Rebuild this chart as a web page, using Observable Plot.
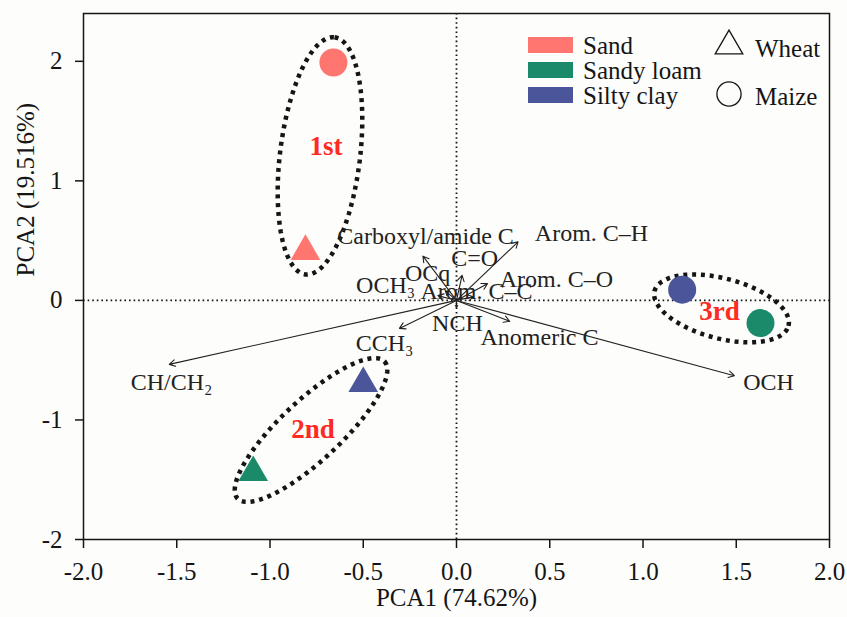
<!DOCTYPE html>
<html><head><meta charset="utf-8">
<script src="https://cdn.jsdelivr.net/npm/d3@7"></script>
<script src="https://cdn.jsdelivr.net/npm/@observablehq/plot@0.6"></script>
<style>
body{margin:0;background:#fdfdfb;}
#wrap{position:relative;width:847px;height:617px;}
#wrap svg{display:block;}
#legend{position:absolute;left:0;top:0;pointer-events:none;}
</style></head><body><div id="wrap"></div>
<script>
// ---- data ----
const soils = ["Sand", "Sandy loam", "Silty clay"];
const soilColors = ["#ff756f", "#1b8a6b", "#4a559a"];
const crops = ["Wheat", "Maize"];

const sampleSoil = ["Sand", "Sand", "Sandy loam", "Sandy loam", "Silty clay", "Silty clay"];
const sampleCrop = ["Wheat", "Maize", "Wheat", "Maize", "Wheat", "Maize"];
const samplePC1 = [-0.81, -0.66, -1.09, 1.63, -0.50, 1.21];
const samplePC2 = [0.41, 1.99, -1.44, -0.19, -0.695, 0.09];

const loadingNames = ["Carboxyl/amide C", "C=O", "Arom. C–H", "OCq", "Arom. C–O", "OCH₃", "Arom. C–C", "NCH", "Anomeric C", "CCH₃", "CH/CH₂", "OCH"];
const loadingPC1 = [-0.18, 0.03, 0.33, -0.06, 0.166, -0.10, 0.09, 0.0, 0.285, -0.306, -1.54, 1.49];
const loadingPC2 = [0.37, 0.21, 0.49, 0.08, 0.14, 0.04, 0.03, -0.06, -0.175, -0.234, -0.535, -0.63];
const labelPC1 = [-0.166, 0.097, 0.724, -0.155, 0.536, -0.38, 0.107, 0.005, 0.445, -0.386, -1.528, 1.673];
const labelPC2 = [0.536, 0.35, 0.56, 0.226, 0.176, 0.126, 0.075, -0.19, -0.31, -0.36, -0.686, -0.686];

const groupNames = ["1st", "2nd", "3rd"];
const groupPC1 = [-0.70, -0.77, 1.41];
const groupPC2 = [1.29, -1.08, -0.09];
// dotted ellipses: centre and two semi-axis vectors (data units)
const ellCX = [-0.732, -0.78, 1.421];
const ellCY = [1.209, -1.084, -0.067];
const ellUX = [0.078, 0.394, 0.359];
const ellUY = [0.992, 0.573, -0.146];
const ellVX = [0.213, 0.110, 0.041];
const ellVY = [-0.041, -0.184, 0.243];

const xTicks = [-2, -1.5, -1, -0.5, 0, 0.5, 1, 1.5, 2];
const yTicks = [-2, -1, 0, 1, 2];
const xLabel = "PCA1 (74.62%)";
const yLabel = "PCA2 (19.516%)";

// ---- tables ----
const samples = sampleSoil.map((s, i) => ({soil: s, crop: sampleCrop[i], x: samplePC1[i], y: samplePC2[i]}));
const loadings = loadingNames.map((n, i) => ({name: n, x: loadingPC1[i], y: loadingPC2[i], lx: labelPC1[i], ly: labelPC2[i]}));
const groups = groupNames.map((g, i) => ({g, x: groupPC1[i], y: groupPC2[i]}));
const ellPts = [];
groupNames.forEach((g, i) => {
  for (let k = 0; k < 120; k++) {
    const t = (k / 120) * 2 * Math.PI;
    ellPts.push({g, x: ellCX[i] + ellUX[i] * Math.cos(t) + ellVX[i] * Math.sin(t),
                    y: ellCY[i] + ellUY[i] * Math.cos(t) + ellVY[i] * Math.sin(t)});
  }
});

const serif = "'Liberation Serif','Times New Roman',serif";
const ink = "#151515";

const chart = Plot.plot({
  width: 847, height: 617,
  marginLeft: 83, marginRight: 18, marginTop: 13, marginBottom: 78,
  x: {domain: [-2, 2]},
  y: {domain: [-2, 2.4]},
  color: {domain: soils, range: soilColors},
  style: {fontFamily: serif, fontSize: "25px", background: "transparent", color: ink},
  marks: [
    Plot.ruleX([0], {stroke: ink, strokeWidth: 1.8, strokeDasharray: "1.6 3"}),
    Plot.ruleY([0], {stroke: ink, strokeWidth: 1.8, strokeDasharray: "1.6 3"}),
    Plot.line(ellPts, {x: "x", y: "y", z: "g", curve: "linear-closed", stroke: ink, strokeWidth: 4.5, strokeLinecap: "butt", strokeLinejoin: "miter", strokeDasharray: "4 4.8"}),
    Plot.arrow(loadings, {x1: d => 0, y1: d => 0, x2: "x", y2: "y", headLength: 9, strokeWidth: 1.1, stroke: "#222"}),
    Plot.text(loadings, {x: "lx", y: "ly", text: "name", fontSize: 24, fill: "#222"}),
    Plot.dot(samples.filter(d => d.crop === "Wheat"), {x: "x", y: "y", fill: "soil", symbol: "triangle", r: 11}),
    Plot.dot(samples.filter(d => d.crop === "Maize"), {x: "x", y: "y", fill: "soil", symbol: "circle", r: 14}),
    Plot.text(groups, {x: "x", y: "y", text: "g", fill: "#ff2a22", fontWeight: "bold", fontSize: 27}),
    Plot.frame({stroke: ink, strokeWidth: 1.5}),
    Plot.axisX({ticks: xTicks, tickFormat: d => d.toFixed(1), tickSize: 9, tickPadding: 14, label: null, strokeWidth: 1.5, fontSize: 25}),
    Plot.axisY({ticks: yTicks, tickFormat: d => String(d), tickSize: 8, tickPadding: 13, label: null, strokeWidth: 1.5, fontSize: 25}),
    Plot.text([xLabel], {frameAnchor: "bottom", dy: 66, text: d => d, fontSize: 25, fill: ink}),
    Plot.text([yLabel], {frameAnchor: "left", dx: -58, rotate: -90, text: d => d, fontSize: 25, fill: ink})
  ]
});
const wrap = document.getElementById("wrap");
wrap.appendChild(chart);

// ---- legend overlay ----
const lg = d3.select(wrap).append("svg").attr("id", "legend").attr("width", 847).attr("height", 617)
  .style("font-family", serif).style("font-size", "25px");
soils.forEach((s, i) => {
  lg.append("rect").attr("x", 528).attr("y", 37 + i * 25).attr("width", 45).attr("height", 16).attr("fill", soilColors[i]);
  lg.append("text").attr("x", 583).attr("y", 45 + i * 25).attr("dy", "0.35em").attr("fill", ink).text(s);
});
const symbols = [d3.symbolTriangle, d3.symbolCircle];
const symSize = [330, 460];
crops.forEach((c, i) => {
  lg.append("path").attr("transform", `translate(729,${i === 0 ? 46 : 94})`)
    .attr("d", d3.symbol(symbols[i], symSize[i])()).attr("fill", "none").attr("stroke", ink).attr("stroke-width", 1.3);
  lg.append("text").attr("x", 755).attr("y", i === 0 ? 48 : 96).attr("dy", "0.35em").attr("fill", ink).text(c);
});
</script>
</body></html>
